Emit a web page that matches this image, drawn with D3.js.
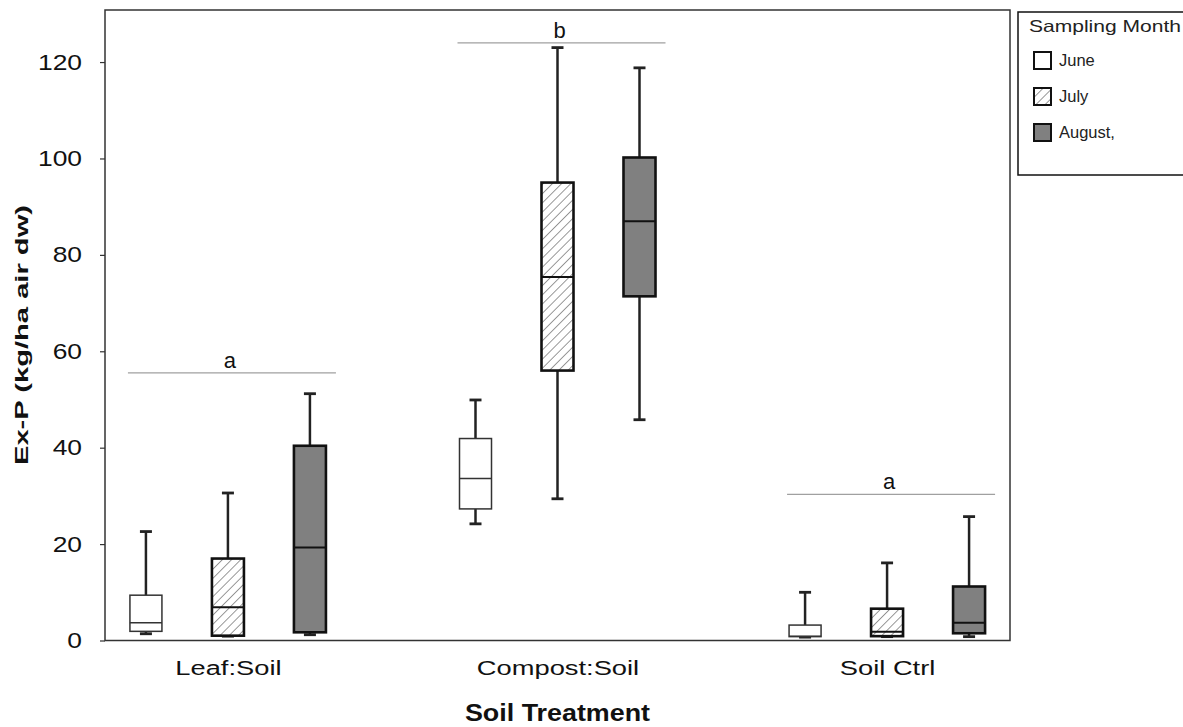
<!DOCTYPE html>
<html>
<head>
<meta charset="utf-8">
<script src="https://cdn.jsdelivr.net/npm/d3@7"></script>
<style>
  html, body { margin: 0; padding: 0; background: #fff; }
  svg { display: block; }
  text { font-family: "Liberation Sans", Arial, sans-serif; }
</style>
</head>
<body>
<svg id="chart" width="1183" height="727"></svg>
<script>
// ---- data ----
const categories = ["Leaf:Soil", "Compost:Soil", "Soil Ctrl"];
const months = ["June", "July", "August,"];
// [min, q1, median, q3, max] per category
const juneStats   = [[1.4, 1.9, 3.7, 9.4, 22.6], [24.2, 27.3, 33.6, 41.9, 49.9], [0.7, 0.8, 0.9, 3.2, 10.0]];
const julyStats   = [[0.9, 1.0, 6.9, 17.0, 30.6], [29.4, 56.0, 75.4, 95.0, 123.0], [0.8, 0.9, 1.8, 6.6, 16.1]];
const augustStats = [[1.2, 1.7, 19.3, 40.4, 51.2], [45.8, 71.4, 87.0, 100.2, 118.8], [0.8, 1.5, 3.7, 11.2, 25.7]];
const sigLetters = ["a", "b", "a"];
const sigHeights = [55.5, 124.0, 30.3];
const yTicks = [0, 20, 40, 60, 80, 100, 120];

const svg = d3.select("#chart");
const L = 105, R = 1010, T = 10, B = 640.5;

const y = d3.scaleLinear().domain([0, 130.8]).range([B, T]);
const x = d3.scalePoint().domain(categories).range([L, R]).padding(0.373);
const xm = d3.scalePoint().domain(months).range([-82, 82]);
const boxW = 32, capW = 12;

// hatch pattern
const defs = svg.append("defs");
const pat = defs.append("pattern").attr("id", "hatch").attr("patternUnits", "userSpaceOnUse")
  .attr("width", 6.5).attr("height", 6.5).attr("patternTransform", "rotate(45)");
pat.append("rect").attr("width", 6.5).attr("height", 6.5).attr("fill", "#fff");
pat.append("line").attr("x1", 0).attr("y1", 0).attr("x2", 0).attr("y2", 6.5)
  .attr("stroke", "#888").attr("stroke-width", 1.7);

const styles = {
  "June":    { fill: "#fff", stroke: "#333", sw: 1.5, msw: 1.5 },
  "July":    { fill: "url(#hatch)", stroke: "#111", sw: 2.6, msw: 2 },
  "August,": { fill: "#808080", stroke: "#111", sw: 2.6, msw: 2 }
};
const allStats = { "June": juneStats, "July": julyStats, "August,": augustStats };

// frame
svg.append("rect").attr("x", L).attr("y", T).attr("width", R - L).attr("height", B - T)
  .attr("fill", "none").attr("stroke", "#333").attr("stroke-width", 1.5);

// y axis
const yAxis = d3.axisLeft(y).tickValues(yTicks).tickSize(5).tickPadding(18);
const gy = svg.append("g").attr("transform", `translate(${L},0)`).call(yAxis);
gy.select(".domain").remove();
gy.selectAll(".tick line").attr("stroke", "#333").attr("stroke-width", 1.2);
gy.selectAll(".tick text").attr("font-size", 22).attr("fill", "#111")
  .attr("font-family", "Liberation Sans, Arial, sans-serif")
  .attr("x", 0).attr("transform", "translate(-23,0) scale(1.2,1)");

// x axis labels
const xAxis = d3.axisBottom(x).tickSize(0).tickPadding(20);
const gx = svg.append("g").attr("transform", `translate(0,${B})`).call(xAxis);
gx.select(".domain").remove();
gx.selectAll(".tick text").attr("font-size", 21).attr("fill", "#111")
  .attr("font-family", "Liberation Sans, Arial, sans-serif")
  .attr("transform", "scale(1.3,1)");

// axis titles
svg.append("text").attr("transform", "translate(557.5,721) scale(1.12,1)").attr("text-anchor", "middle")
  .attr("font-size", 24).attr("font-weight", "bold").attr("fill", "#111")
  .text("Soil Treatment");
svg.append("text").attr("transform", "translate(28,335) rotate(-90)").attr("text-anchor", "middle")
  .attr("font-size", 19).attr("font-weight", "bold").attr("fill", "#111")
  .attr("textLength", 260).attr("lengthAdjust", "spacingAndGlyphs")
  .text("Ex-P (kg/ha air dw)");

// significance lines
categories.forEach((c, i) => {
  const cx = x(c);
  svg.append("line").attr("x1", cx - 100).attr("x2", cx + 108)
    .attr("y1", y(sigHeights[i])).attr("y2", y(sigHeights[i]))
    .attr("stroke", "#a0a0a0").attr("stroke-width", 1.2);
  svg.append("text").attr("x", cx + 2).attr("y", y(sigHeights[i]) - 5).attr("text-anchor", "middle")
    .attr("font-family", "Open Sans, Noto Sans, sans-serif").attr("font-size", 22).attr("fill", "#111")
    .text(sigLetters[i]);
});

// boxes
months.forEach(m => {
  const st = styles[m];
  allStats[m].forEach((s, i) => {
    const cx = x(categories[i]) + xm(m);
    const [mn, q1, md, q3, mx] = s;
    const g = svg.append("g");
    g.append("line").attr("x1", cx).attr("x2", cx).attr("y1", y(q3)).attr("y2", y(mx))
      .attr("stroke", "#222").attr("stroke-width", 2.5);
    g.append("line").attr("x1", cx).attr("x2", cx).attr("y1", y(q1)).attr("y2", y(mn))
      .attr("stroke", "#222").attr("stroke-width", 2.5);
    g.append("line").attr("x1", cx - capW / 2).attr("x2", cx + capW / 2).attr("y1", y(mx)).attr("y2", y(mx))
      .attr("stroke", "#222").attr("stroke-width", 2.8);
    g.append("line").attr("x1", cx - capW / 2).attr("x2", cx + capW / 2).attr("y1", y(mn)).attr("y2", y(mn))
      .attr("stroke", "#222").attr("stroke-width", 2.8);
    g.append("rect").attr("x", cx - boxW / 2).attr("width", boxW)
      .attr("y", y(q3)).attr("height", y(q1) - y(q3))
      .attr("fill", st.fill).attr("stroke", st.stroke).attr("stroke-width", st.sw);
    g.append("line").attr("x1", cx - boxW / 2).attr("x2", cx + boxW / 2).attr("y1", y(md)).attr("y2", y(md))
      .attr("stroke", st.stroke).attr("stroke-width", st.msw);
  });
});

// legend
const lg = svg.append("g");
lg.append("rect").attr("x", 1018).attr("y", 12).attr("width", 200).attr("height", 163)
  .attr("fill", "#fff").attr("stroke", "#111").attr("stroke-width", 1.5);
lg.append("text").attr("x", 1029).attr("y", 32).attr("font-size", 16.5).attr("fill", "#222")
  .attr("textLength", 152).attr("lengthAdjust", "spacingAndGlyphs")
  .text("Sampling Month");
months.forEach((m, i) => {
  const st = styles[m];
  const yy = 52 + i * 36;
  lg.append("rect").attr("x", 1034).attr("y", yy).attr("width", 17).attr("height", 17)
    .attr("fill", st.fill).attr("stroke", "#111").attr("stroke-width", 2);
  lg.append("text").attr("x", 1059).attr("y", yy + 14).attr("font-size", 16.5).attr("fill", "#222")
    .text(m);
});
</script>
</body>
</html>
